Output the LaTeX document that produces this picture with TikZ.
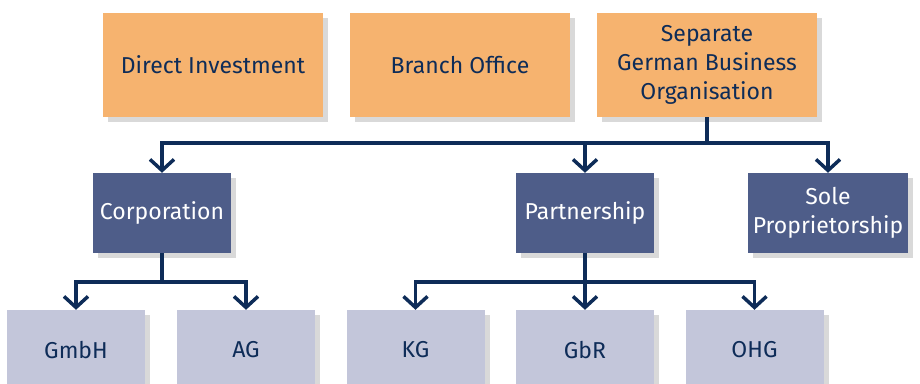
\documentclass[tikz,border=0pt]{standalone}
\usepackage{fontspec}
\setmainfont{Fira Sans}
\usetikzlibrary{arrows.meta, shadows}
\definecolor{orangebox}{HTML}{F6B36F}
\definecolor{darkbox}{HTML}{4E5D89}
\definecolor{lightbox}{HTML}{C3C6DA}
\definecolor{navy}{HTML}{0E2C58}
\tikzstyle{topbox} = [rectangle, minimum width=220pt, minimum height=104pt, text centered, align=center, fill=orangebox, text=navy, inner sep=2pt, drop shadow={shadow xshift=5pt, shadow yshift=-5pt, opacity=0.3}]
\tikzstyle{midbox} = [rectangle, minimum width=138pt, minimum height=80pt, text centered, align=center, fill=darkbox, text=white, inner sep=2pt, drop shadow={shadow xshift=5pt, shadow yshift=-5pt, opacity=0.3}]
\tikzstyle{lowbox} = [rectangle, minimum width=138pt, minimum height=80pt, text centered, align=center, fill=lightbox, text=navy, inner sep=2pt, drop shadow={shadow xshift=5pt, shadow yshift=-5pt, opacity=0.3}]
\tikzstyle{arrow} = [line width=3.5pt, draw=navy, -{Straight Barb[length=11pt,width=24pt]}]
\begin{document}
\begin{tikzpicture}[x=1pt, y=1pt, font=\fontsize{23}{29}\selectfont]
\useasboundingbox (0,0) rectangle (920,383);

% Top row
\node (sep) [topbox] at (707,318) {Separate\\German Business\\Organisation};
\node (branch) [topbox, left of=sep, node distance=247pt] {Branch Office};
\node (direct) [topbox, left of=branch, node distance=247pt] {Direct Investment};

% Middle row
\node (corp) [midbox, below of=direct, node distance=148pt, xshift=-51pt] {Corporation};
\node (part) [midbox, below of=branch, node distance=148pt, xshift=125pt] {Partnership};
\node (sole) [midbox, below of=sep, node distance=148pt, xshift=121pt, minimum width=160pt] {Sole\\Proprietorship};

% Bottom row
\node (gmbh) [lowbox, below of=corp, node distance=137pt, xshift=-86pt] {GmbH};
\node (ag) [lowbox, below of=corp, node distance=137pt, xshift=84pt] {AG};
\node (kg) [lowbox, below of=part, node distance=137pt, xshift=-169.5pt] {KG};
\node (gbr) [lowbox, below of=part, node distance=137pt] {GbR};
\node (ohg) [lowbox, below of=part, node distance=137pt, xshift=169.5pt] {OHG};

% Junctions
\coordinate (j1) at ([yshift=-26pt]sep.south);
\coordinate (j2) at ([yshift=-29pt]corp.south);
\coordinate (j3) at ([yshift=-29pt]part.south);

% Drawing arrows
\draw [line width=3.5pt, draw=navy] (sep.south) -- (j1);
\draw [arrow] (j1) -| (corp.north);
\draw [arrow] (j1) -| (part.north);
\draw [arrow] (j1) -| (sole.north);
\draw [line width=3.5pt, draw=navy] (corp.south) -- (j2);
\draw [arrow] (j2) -| (gmbh.north);
\draw [arrow] (j2) -| (ag.north);
\draw [line width=3.5pt, draw=navy] (part.south) -- (j3);
\draw [arrow] (j3) -| (kg.north);
\draw [arrow] (j3) -| (gbr.north);
\draw [arrow] (j3) -| (ohg.north);

\end{tikzpicture}
\end{document}
